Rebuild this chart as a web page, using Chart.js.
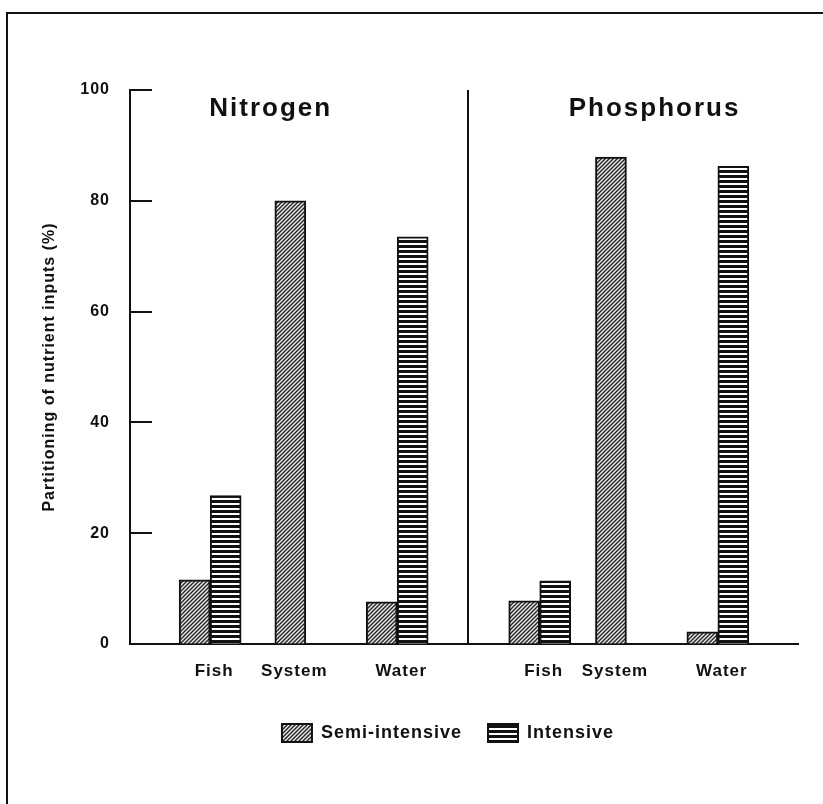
<!DOCTYPE html>
<html><head><meta charset="utf-8">
<script src="https://cdn.jsdelivr.net/npm/chart.js@4"></script>
<style>
html,body{margin:0;padding:0;background:#fff;}
#wrap{position:relative;width:823px;height:804px;overflow:hidden;}
#frame{position:absolute;left:6px;top:12px;right:-4px;bottom:-4px;border-top:2px solid #111;border-left:2px solid #111;pointer-events:none;}
canvas{position:absolute;left:0;top:0;}
</style></head><body>
<div id="wrap"><canvas id="c" width="823" height="804"></canvas><div id="frame"></div></div>
<script>
// ---- data ----
const categories = ['Fish', 'System', 'Water'];
const panels = ['Nitrogen', 'Phosphorus'];
const seriesNames = ['Semi-intensive', 'Intensive'];
const nitrogenSemi = [11.6, 80.0, 7.6];
const nitrogenIntensive = [26.8, null, 73.5];
const phosphorusSemi = [7.8, 87.9, 2.2];
const phosphorusIntensive = [11.4, null, 86.2];
const yTicks = [0, 20, 40, 60, 80, 100];
const yTitle = 'Partitioning of nutrient inputs (%)';

// ---- layout (slots on the category axis) ----
const SLOTS = 76;
const panelSlots = [[9, 18, 30], [46, 54, 66]];
const dividerSlot = 38;
const panelTitleSlots = [15.8, 58.9];
const LEGEND_SHIFT = 49;

const labels = new Array(SLOTS).fill('');
const semiData = new Array(SLOTS).fill(null);
const intData = new Array(SLOTS).fill(null);
const semiSets = [nitrogenSemi, phosphorusSemi];
const intSets = [nitrogenIntensive, phosphorusIntensive];
panelSlots.forEach((slots, p) => {
  slots.forEach((s, i) => {
    labels[s] = categories[i];
    semiData[s] = semiSets[p][i];
    intData[s] = intSets[p][i];
  });
});

// ---- patterns ----
function diagPattern() {
  const c = document.createElement('canvas');
  c.width = 4; c.height = 4;
  const g = c.getContext('2d');
  g.fillStyle = '#e6e6e6'; g.fillRect(0, 0, 4, 4);
  g.strokeStyle = '#222'; g.lineWidth = 1.3;
  g.beginPath();
  g.moveTo(-1, 5); g.lineTo(5, -1);
  g.moveTo(-1, 1); g.lineTo(1, -1);
  g.moveTo(3, 5); g.lineTo(5, 3);
  g.stroke();
  return g.createPattern(c, 'repeat');
}
function horizPattern() {
  const c = document.createElement('canvas');
  c.width = 4; c.height = 5;
  const g = c.getContext('2d');
  g.fillStyle = '#fff'; g.fillRect(0, 0, 4, 5);
  g.fillStyle = '#111'; g.fillRect(0, 0, 4, 3);
  return g.createPattern(c, 'repeat');
}

const FONT = '"Liberation Sans", Arial, Helvetica, sans-serif';
Chart.defaults.color = '#111';
Chart.defaults.font.family = FONT;
Chart.defaults.font.weight = 'bold';

const spacingPlugin = {
  id: 'spacing',
  beforeUpdate(chart) { chart.ctx.letterSpacing = '1px'; },
  afterLayout(chart) {
    if (chart.legend) {
      chart.legend.left += LEGEND_SHIFT;
      chart.legend.right += LEGEND_SHIFT;
    }
  },
  beforeDraw(chart) {
    const ctx = chart.ctx;
    ctx.letterSpacing = '1px';
    ctx.save();
    ctx.fillStyle = '#fff';
    ctx.fillRect(0, 0, chart.width, chart.height);
    ctx.restore();
  }
};

const decorPlugin = {
  id: 'decor',
  afterDraw(chart) {
    const ctx = chart.ctx;
    const y = chart.scales.y, x = chart.scales.x;
    ctx.save();
    // inward tick marks
    ctx.strokeStyle = '#111';
    ctx.lineWidth = 2;
    yTicks.forEach(v => {
      const py = Math.round(y.getPixelForValue(v));
      ctx.beginPath();
      ctx.moveTo(chart.chartArea.left, py);
      ctx.lineTo(chart.chartArea.left + 22, py);
      ctx.stroke();
    });
    // panel titles
    ctx.font = 'bold 26px ' + FONT;
    ctx.letterSpacing = '2px';
    ctx.fillStyle = '#111';
    ctx.textAlign = 'center';
    ctx.textBaseline = 'middle';
    panels.forEach((name, i) => {
      ctx.fillText(name, x.getPixelForValue(panelTitleSlots[i]), chart.chartArea.top + 19);
    });
    ctx.restore();
  }
};

new Chart(document.getElementById('c'), {
  type: 'bar',
  data: {
    labels: labels,
    datasets: [
      {
        label: seriesNames[0],
        data: semiData,
        backgroundColor: diagPattern(),
        borderColor: '#111',
        borderWidth: 2,
        barThickness: 31,
        skipNull: true
      },
      {
        label: seriesNames[1],
        data: intData,
        backgroundColor: horizPattern(),
        borderColor: '#111',
        borderWidth: 2,
        barThickness: 31,
        skipNull: true
      }
    ]
  },
  options: {
    responsive: false,
    animation: false,
    devicePixelRatio: 1,
    layout: { padding: { top: 90, right: 25, bottom: 52, left: 0 } },
    plugins: {
      tooltip: { enabled: false },
      legend: {
        position: 'bottom',
        labels: {
          boxWidth: 30,
          boxHeight: 18,
          padding: 26,
          color: '#111',
          font: { size: 18, weight: 'bold', family: FONT }
        }
      }
    },
    scales: {
      x: {
        type: 'category',
        offset: false,
        border: { display: true, color: '#111', width: 2 },
        grid: {
          offset: false,
          drawTicks: false,
          lineWidth: 2,
          color: ctx => ctx.index === dividerSlot ? '#111' : 'rgba(0,0,0,0)'
        },
        ticks: {
          autoSkip: false,
          maxRotation: 0,
          minRotation: 0,
          padding: 17,
          labelOffset: 4,
          color: '#111',
          font: { size: 17, weight: 'bold', family: FONT }
        },
        afterFit: s => { s.height = 54; }
      },
      y: {
        min: 0,
        max: 100,
        border: { display: true, color: '#111', width: 2 },
        grid: { drawOnChartArea: false, drawTicks: false },
        afterBuildTicks: s => { s.ticks = yTicks.map(v => ({ value: v })); },
        ticks: {
          padding: 20,
          color: '#111',
          font: { size: 16, weight: 'bold', family: FONT }
        },
        title: {
          display: true,
          text: yTitle,
          color: '#111',
          padding: { top: 40, bottom: 0 },
          font: { size: 16, weight: 'bold', family: FONT }
        },
        afterFit: s => { s.width = 130; }
      }
    }
  },
  plugins: [spacingPlugin, decorPlugin]
});
</script>
</body></html>
